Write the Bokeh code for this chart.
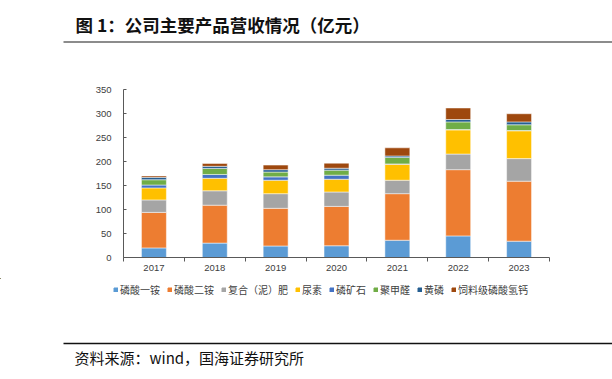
import numpy as np
from bokeh.plotting import figure
from bokeh.layouts import column
from bokeh.models import (Range1d, FixedTicker, Legend, LegendItem, ColumnDataSource)
from bokeh.core.properties import value
from bokeh.embed import file_html
from bokeh.resources import INLINE

years = ["2017", "2018", "2019", "2020", "2021", "2022", "2023"]
series_names = ["磷酸一铵", "磷酸二铵", "复合（泥）肥", "尿素", "磷矿石", "聚甲醛", "黄磷", "饲料级磷酸氢钙"]
mono = [20, 30, 24, 24.5, 36, 45, 34]
dap = [74, 79, 78.5, 82, 97, 138, 125]
compound = [26, 30, 30.5, 30, 28, 32.5, 47]
urea = [25, 26, 28, 26.5, 33.5, 50.5, 58]
rock = [6, 8, 7, 8.5, 0.5, 0.5, 0.5]
pom = [11, 12.5, 10, 10.5, 13.5, 16, 12]
yp = [5, 4.5, 5, 4, 3, 5, 6]
feed = [3, 6, 9.5, 10.5, 17, 24, 17]
colors = ["#5B9BD5", "#ED7D31", "#A5A5A5", "#FFC000", "#4472C4", "#70AD47", "#255E91", "#9E480E"]
y_ticks = [0, 50, 100, 150, 200, 250, 300, 350]
title_text = "图 1：公司主要产品营收情况（亿元）"
source_text = "资料来源：wind，国海证券研究所"

W = 612
TOP_H, MAIN_H = 60, 218
BOT_H = 379 - TOP_H - MAIN_H

# ---------- header strip ----------
top = figure(width=W, height=TOP_H, x_range=Range1d(0, W), y_range=Range1d(TOP_H, 0),
             x_axis_type=None, y_axis_type=None, output_backend="svg", toolbar_location=None,
             min_border=0, frame_align=False)
top.outline_line_color = None
top.grid.visible = False
top.text(x=[75], y=[24], text=[title_text], text_font=value("Noto Sans CJK SC"),
         text_font_style="bold", text_font_size="17.5px", text_color="#111111",
         text_baseline="middle")
top.segment(x0=[63], x1=[W], y0=[41.5], y1=[41.5], line_color="#8c8c8c", line_width=2)

# ---------- main chart ----------
n = len(years)
centers = np.arange(n) + 0.5
edges = list(range(n + 1))
keys = ["s%d" % i for i in range(8)]
data = {"x": centers, "year": years}
for k, v in zip(keys, [mono, dap, compound, urea, rock, pom, yp, feed]):
    data[k] = v
src = ColumnDataSource(data)

frame_top = 89.3 - TOP_H
frame_bottom = 256.7 - TOP_H
p = figure(width=W, height=MAIN_H, x_range=Range1d(0, n),
           y_range=Range1d(0, 350), output_backend="svg", toolbar_location=None,
           min_border_left=123, min_border_right=W - 549,
           min_border_top=int(round(frame_top)), min_border_bottom=int(round(MAIN_H - frame_bottom)),
           frame_align=False)
p.outline_line_color = None
p.grid.grid_line_color = None

rs = p.vbar_stack(keys, x="x", width=0.41, source=src, color=colors,
                  line_color="white", line_width=0.5)

ya = p.yaxis[0]
ya.ticker = FixedTicker(ticks=y_ticks)
ya.axis_line_color = "#595959"
ya.major_tick_line_color = "#595959"
ya.major_tick_in = 3
ya.major_tick_out = 0
ya.minor_tick_line_color = None
ya.major_label_standoff = 12
ya.major_label_text_font = "Liberation Sans"
ya.major_label_text_font_size = "9.5px"
ya.major_label_text_color = "#404040"

xa = p.xaxis[0]
xa.ticker = FixedTicker(ticks=list(centers), minor_ticks=edges)
xa.major_label_overrides = {float(c): y for c, y in zip(centers, years)}
xa.axis_line_color = "#595959"
xa.major_tick_line_color = None
xa.minor_tick_line_color = "#595959"
xa.minor_tick_in = 0
xa.minor_tick_out = 4
xa.major_tick_out = 0
xa.major_label_standoff = 3
xa.major_label_text_font = "Liberation Sans"
xa.major_label_text_font_size = "9.5px"
xa.major_label_text_color = "#404040"

# ---------- footer strip (legend, rule, source) ----------
Y0 = TOP_H + MAIN_H
bot = figure(width=W, height=BOT_H, x_range=Range1d(0, W), y_range=Range1d(Y0 + BOT_H, Y0),
             x_axis_type=None, y_axis_type=None, output_backend="svg", toolbar_location=None,
             min_border=0, frame_align=False)
bot.outline_line_color = None
bot.grid.visible = False
# legend swatch renderers: one zero-height bar each, placed off-canvas
swatches = [bot.vbar(x=[-500], top=[Y0], bottom=[Y0], width=1, color=c) for c in colors]
items = [LegendItem(label=nm, renderers=[r]) for nm, r in zip(series_names, swatches)]
leg = Legend(items=items, orientation="horizontal", location=(113, 379 - 297),
             label_text_font="Noto Sans CJK SC", label_text_font_size="10px",
             label_text_color="#404040", glyph_width=5, glyph_height=5,
             label_standoff=2, spacing=7, padding=0, margin=0, label_height=12,
             border_line_color=None, background_fill_alpha=0)
bot.add_layout(leg)
bot.segment(x0=[63], x1=[W], y0=[343], y1=[343], line_color="#111111", line_width=1.3)
bot.text(x=[74], y=[357], text=[source_text], text_font=value("Noto Sans CJK SC"),
         text_font_size="15px", text_color="#111111", text_baseline="middle")

layout = column(top, p, bot, spacing=0)
open("out.html", "w").write(file_html(layout, INLINE))
